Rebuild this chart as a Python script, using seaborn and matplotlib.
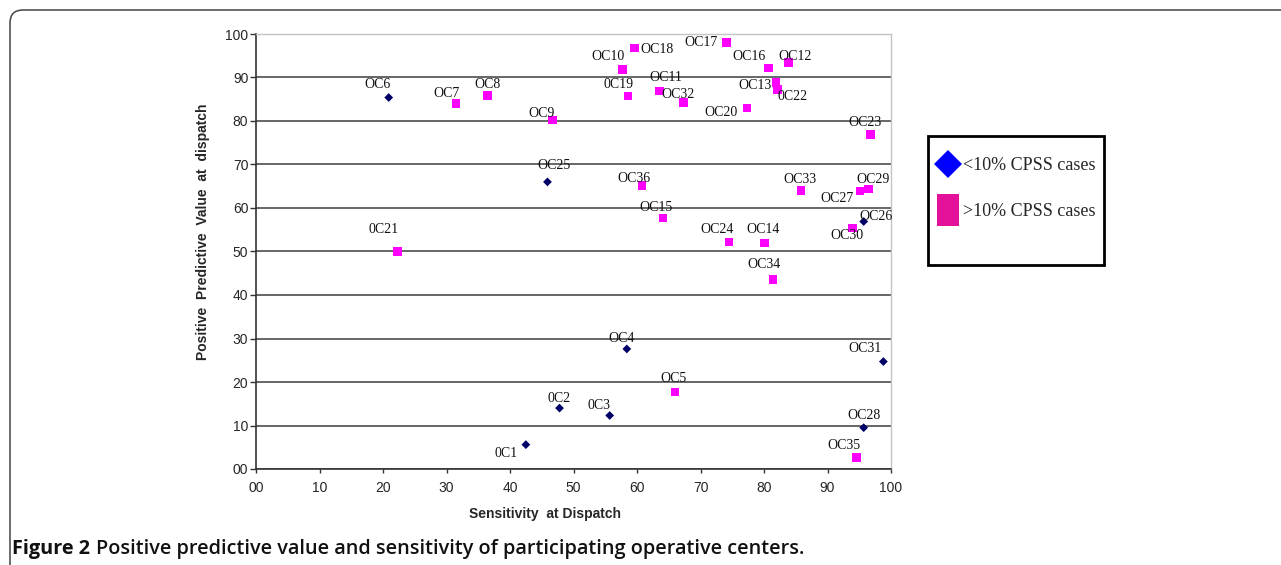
import pandas as pd
import matplotlib.pyplot as plt
import seaborn as sns
from matplotlib.lines import Line2D
from matplotlib.patches import Rectangle, FancyBboxPatch

# --- data ---
centers = ["0C1", "0C2", "0C3", "OC4", "OC5", "OC6", "OC7", "OC8", "OC9", "OC10",
           "OC11", "OC12", "OC13", "OC14", "OC15", "OC16", "OC17", "OC18", "0C19", "OC20",
           "0C21", "0C22", "OC23", "OC24", "OC25", "OC26", "OC27", "OC28", "OC29", "OC30",
           "OC31", "OC32", "OC33", "OC34", "OC35", "OC36"]
sensitivity = [42.5, 47.8, 55.7, 58.4, 66.0, 20.9, 31.5, 36.5, 46.7, 57.7,
               63.5, 83.9, 81.9, 80.1, 64.1, 80.7, 74.1, 59.6, 58.6, 77.3,
               22.3, 82.1, 96.8, 74.5, 45.9, 95.7, 95.1, 95.7, 96.5, 93.9,
               98.8, 67.3, 85.8, 81.4, 94.6, 60.8]
ppv = [5.6, 14.0, 12.3, 27.6, 17.7, 85.4, 84.0, 85.9, 80.2, 91.8,
       86.9, 93.5, 88.8, 52.0, 57.7, 92.2, 98.1, 96.8, 85.7, 83.0,
       50.0, 87.3, 76.9, 52.2, 66.0, 56.9, 63.9, 9.5, 64.4, 55.4,
       24.7, 84.3, 64.0, 43.5, 2.7, 65.2]
groups = ["<10%", "<10%", "<10%", "<10%", ">10%", "<10%", ">10%", ">10%", ">10%", ">10%",
          ">10%", ">10%", ">10%", ">10%", ">10%", ">10%", ">10%", ">10%", ">10%", ">10%",
          ">10%", ">10%", ">10%", ">10%", "<10%", "<10%", ">10%", "<10%", ">10%", ">10%",
          "<10%", ">10%", ">10%", ">10%", ">10%", ">10%"]
legend_labels = ["<10% CPSS cases", ">10% CPSS cases"]
tick_values = list(range(0, 101, 10))
tick_labels = ["00"] + [str(v) for v in tick_values[1:]]

# label placement (pixels from the marker)
label_offsets = {
    "0C1": (-20, -9), "0C2": (0, 10), "0C3": (-11, 10), "OC4": (-5, 10), "OC5": (-2, 14),
    "OC6": (-11, 13), "OC7": (-10, 10), "OC8": (0, 11), "OC9": (-11, 7), "OC10": (-14, 13),
    "OC11": (7, 13), "OC12": (6, 6), "OC13": (-21, -3), "OC14": (-2, 13), "OC15": (-7, 11),
    "OC16": (-19, 11), "OC17": (-26, 0), "OC18": (23, -2), "0C19": (-10, 12), "OC20": (-26, -5),
    "0C21": (-14, 22), "0C22": (15, -7), "OC23": (-6, 12), "OC24": (-12, 12), "OC25": (7, 16),
    "OC26": (12, 5), "OC27": (-23, -7), "OC28": (0, 12), "OC29": (4, 9), "OC30": (-5, -7),
    "OC31": (-18, 13), "OC32": (-5, 8), "OC33": (-1, 11), "OC34": (-9, 15), "OC35": (-13, 12),
    "OC36": (-8, 7),
}

df = pd.DataFrame({"center": centers, "sens": sensitivity, "ppv": ppv, "group": groups})

sns.set_style("white")
plt.rcParams["font.family"] = ["Liberation Sans", "DejaVu Sans"]

W, H = 1281, 565
fig = plt.figure(figsize=(W / 100, H / 100), dpi=100)
ax = fig.add_axes([256 / W, 1 - 469 / H, 635 / W, 435 / H])

sns.scatterplot(data=df, x="sens", y="ppv", hue="group", style="group", size="group",
                palette={"<10%": "#000066", ">10%": "#ff00ff"},
                markers={"<10%": "D", ">10%": "s"},
                sizes={"<10%": 20, ">10%": 38},
                linewidth=0, legend=False, ax=ax, zorder=3)

for name, xv, yv in zip(centers, sensitivity, ppv):
    dx, dy = label_offsets[name]
    ax.annotate(name, (xv, yv), xytext=(dx, dy), textcoords="offset pixels",
                ha="center", va="center", fontsize=10, family="Liberation Serif",
                color="#111111", zorder=4)

ax.set_xlim(0, 100)
ax.set_ylim(0, 100)
ax.set_xticks(tick_values)
ax.set_xticklabels(tick_labels)
ax.set_yticks(tick_values)
ax.set_yticklabels(tick_labels)
ax.tick_params(axis="y", direction="out", length=4, width=1, color="#333333",
               labelsize=10, pad=1.5, left=True)
ax.tick_params(axis="x", direction="out", length=3, width=1, color="#333333",
               labelsize=10, pad=6, bottom=True)

ax.yaxis.grid(True, color="#4d4d4d", linewidth=1.2)
ax.xaxis.grid(False)
ax.set_axisbelow(True)
ax.yaxis.get_gridlines()[-1].set_color("#bdbdbd")

for side in ["left", "bottom"]:
    ax.spines[side].set_color("#333333")
    ax.spines[side].set_linewidth(1.2)
for side in ["top", "right"]:
    ax.spines[side].set_color("#c4c4c4")
    ax.spines[side].set_linewidth(1.0)

ax.set_xlabel("Sensitivity  at Dispatch", fontsize=10, fontweight="bold")
ax.set_ylabel("Positive  Predictive  Value  at  dispatch", fontsize=10, fontweight="bold")
ax.xaxis.set_label_coords(0.455, -0.088)
ax.yaxis.set_label_coords(-0.073, 0.545)

# legend with its own frame
rect_marker = [(-0.36, -0.5), (0.36, -0.5), (0.36, 0.5), (-0.36, 0.5), (-0.36, -0.5)]
handles = [Line2D([], [], linestyle="none", marker="D", markersize=14,
                  markerfacecolor="#0000ff", markeredgewidth=0),
           Line2D([], [], linestyle="none", marker=rect_marker, markersize=23,
                  markerfacecolor="#e4119a", markeredgewidth=0)]
fig.legend(handles, legend_labels, loc="upper left", bbox_to_anchor=(928 / W, 1 - 150 / H),
           frameon=False, borderaxespad=0, borderpad=0.4, handlelength=1.4,
           handletextpad=0.13, labelspacing=1.6,
           prop={"family": "Liberation Serif", "size": 13})
fig.add_artist(Rectangle((928 / W, 1 - 265 / H), 176 / W, 129 / H, fill=False,
                         edgecolor="black", linewidth=2, transform=fig.transFigure))

# outer frame and caption
fig.add_artist(FancyBboxPatch((10, -60), 1400, H - 10 + 60,
                              boxstyle="round,pad=0,rounding_size=13",
                              fill=False, edgecolor="#444444", linewidth=1.1,
                              transform=None, clip_on=False))
t1 = fig.text(12 / W, 1 - 554 / H, "Figure 2", fontsize=14.3, fontweight="bold",
              family=["Open Sans", "DejaVu Sans"], va="baseline", color="#111111")
fig.add_artist(plt.Annotation(
    "Positive predictive value and sensitivity of participating operative centers.",
    xy=(1, 0), xycoords=t1, xytext=(4, 0), textcoords="offset points",
    va="bottom", ha="left", fontsize=14.3, fontweight="semibold",
    family=["Open Sans", "DejaVu Sans"], color="#111111"))

fig.savefig("out.png", dpi=100)
